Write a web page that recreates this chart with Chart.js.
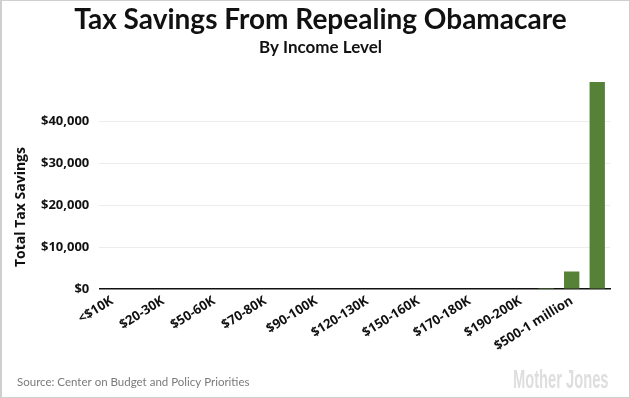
<!DOCTYPE html>
<html>
<head>
<meta charset="utf-8">
<script src="https://cdn.jsdelivr.net/npm/chart.js@4/dist/chart.umd.min.js"></script>
<style>
  html, body { margin: 0; padding: 0; background: #fff; }
  #wrap { width: 630px; height: 398px; position: relative; }
</style>
</head>
<body>
<div id="wrap"><canvas id="myChart" width="630" height="398"></canvas></div>
<script>
// income brackets (every other one gets a label on the axis)
const brackets = ['<$10K', '$10-20K', '$20-30K', '$30-50K', '$50-60K', '$60-70K', '$70-80K', '$80-90K',
    '$90-100K', '$100-120K', '$120-130K', '$130-150K', '$150-160K', '$160-170K', '$170-180K', '$180-190K',
    '$190-200K', '$200-500K', '$500-1 million', '>$1 million'];
// average tax savings per bracket
const savings = [0, 0, 0, 0, 0, 0, 0, 0, 0, 0, 0, 0, 0, 0, 0, 0, 0, 250, 4200, 49300];
const yTicks = [0, 10000, 20000, 30000, 40000];
const yTitle = 'Total Tax Savings';

const tickFont = "'Open Sans', 'Lato', sans-serif";
const headFont = "'Lato', 'Open Sans', sans-serif";

// frame, y title, source line and logo
const extras = {
    id: 'extras',
    afterDraw(chart) {
        const c = chart.ctx;
        c.save();
        c.strokeStyle = '#cfcfcf';
        c.lineWidth = 1;
        c.strokeRect(0.5, 0.5, 629, 397);
        c.fillStyle = '#cfcfcf';
        c.fillRect(0, 0, 2, 398);

        // y axis title, sits a bit below the middle of the plot
        c.save();
        c.fillStyle = '#111';
        c.font = "bold 14px " + tickFont;
        c.textAlign = 'center';
        c.textBaseline = 'middle';
        c.translate(21, 207);
        c.rotate(-Math.PI / 2);
        c.fillText(yTitle, 0, 0);
        c.restore();

        c.fillStyle = '#7a7a7a';
        c.font = "11.5px " + headFont;
        c.textBaseline = 'middle';
        c.textAlign = 'left';
        c.fillText('Source: Center on Budget and Policy Priorities', 17, 382);

        // Mother Jones wordmark, condensed
        c.fillStyle = '#dedede';
        c.font = "bold 26px 'Liberation Sans', 'DejaVu Sans', sans-serif";
        c.textBaseline = 'alphabetic';
        c.translate(513, 388);
        c.scale(0.565, 1);
        c.fillText('Mother Jones', 0, 0);
        c.restore();
    }
};

const ctx = document.getElementById('myChart');
const myChart = new Chart(ctx, {
    type: 'bar',
    data: {
        labels: brackets,
        datasets: [{
            data: savings,
            backgroundColor: '#558236',
            borderWidth: 0,
            categoryPercentage: 1,
            barPercentage: 0.6
        }]
    },
    options: {
        responsive: false,
        animation: false,
        layout: {
            padding: { left: 31, right: 20, top: 0, bottom: 40 }
        },
        scales: {
            x: {
                grid: { display: false, drawTicks: false },
                border: { display: true, color: '#111', width: 1.5 },
                ticks: {
                    autoSkip: false,
                    minRotation: 32,
                    maxRotation: 32,
                    padding: 4,
                    color: '#111',
                    font: { family: tickFont, weight: 'bold', size: 13 },
                    callback: function (value, index) {
                        return index % 2 === 0 ? brackets[index] : '';
                    }
                }
            },
            y: {
                min: 0,
                max: 50000,
                afterBuildTicks: function (axis) {
                    axis.ticks = yTicks.concat([50000]).map(v => ({ value: v }));
                },
                border: { display: false },
                grid: {
                    drawTicks: false,
                    color: function (c) {
                        return (c.tick.value === 0 || c.tick.value === 50000) ? 'rgba(0,0,0,0)' : '#ececec';
                    }
                },
                ticks: {
                    padding: 10,
                    color: '#111',
                    font: { family: tickFont, weight: 'bold', size: 13 },
                    callback: function (value) {
                        if (value === 50000) return '';
                        return '$' + value.toLocaleString('en-US');
                    }
                }
            }
        },
        plugins: {
            legend: { display: false },
            tooltip: { enabled: false },
            title: {
                display: true,
                text: 'Tax Savings From Repealing Obamacare',
                color: '#111',
                font: { family: headFont, weight: 'bold', size: 28 },
                padding: { top: 3, bottom: 0 }
            },
            subtitle: {
                display: true,
                text: 'By Income Level',
                color: '#111',
                font: { family: headFont, weight: 'bold', size: 17 },
                padding: { top: 1, bottom: 21 }
            }
        }
    },
    plugins: [extras]
});
</script>
</body>
</html>
